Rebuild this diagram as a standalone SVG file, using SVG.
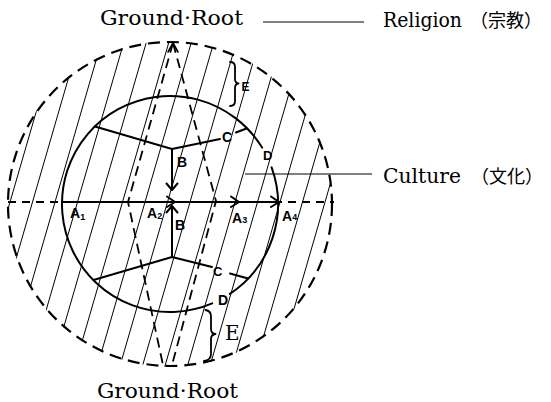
<svg xmlns="http://www.w3.org/2000/svg" width="551" height="402" viewBox="0 0 551 402">
  <style>
    .bg { fill: #ffffff; }
    .hatch { stroke: #000; stroke-width: 1; fill: none; }
    .ring { stroke: #000; stroke-width: 2.2; fill: none; stroke-dasharray: 12 7; }
    .axis { stroke: #000; stroke-width: 1.8; fill: none; stroke-dasharray: 10 6; }
    .hdash { stroke: #000; stroke-width: 2; fill: none; stroke-dasharray: 8 6; }
    .solid { stroke: #000; stroke-width: 2; fill: none; stroke-linecap: round; stroke-linejoin: round; }
    .thin { stroke: #000; stroke-width: 1; fill: none; }
    .brace { stroke: #000; stroke-width: 1.8; fill: none; stroke-linecap: round; stroke-linejoin: round; }
    .serif { font-family: "DejaVu Serif", "Liberation Serif", serif; font-size: 21px; fill: #000; }
    .cjk { font-family: "Noto Sans CJK JP", "Noto Sans CJK SC", sans-serif; font-size: 18px; fill: #000; }
    .lbl { font-family: "Liberation Sans", Arial, sans-serif; font-size: 14px; font-weight: bold; fill: #000; }
    .sub { font-family: "Liberation Sans", Arial, sans-serif; font-size: 9px; font-weight: bold; fill: #000; }
  </style>
  <defs>
    <clipPath id="ringClip">
      <circle cx="170" cy="204" r="163"/>
    </clipPath>
  </defs>

  <rect class="bg" x="0" y="0" width="551" height="402"/>

  <!-- hatching -->
  <g id="hatching" clip-path="url(#ringClip)">
    <line class="hatch" x1="37.4" y1="30" x2="-64.1" y2="380"/>
    <line class="hatch" x1="59.9" y1="30" x2="-41.6" y2="380"/>
    <line class="hatch" x1="82.4" y1="30" x2="-19.1" y2="380"/>
    <line class="hatch" x1="104.9" y1="30" x2="3.4" y2="380"/>
    <line class="hatch" x1="127.4" y1="30" x2="25.9" y2="380"/>
    <line class="hatch" x1="149.9" y1="30" x2="48.4" y2="380"/>
    <line class="hatch" x1="172.4" y1="30" x2="70.9" y2="380"/>
    <line class="hatch" x1="194.9" y1="30" x2="93.4" y2="380"/>
    <line class="hatch" x1="217.4" y1="30" x2="115.9" y2="380"/>
    <line class="hatch" x1="239.9" y1="30" x2="138.4" y2="380"/>
    <line class="hatch" x1="262.4" y1="30" x2="160.9" y2="380"/>
    <line class="hatch" x1="284.9" y1="30" x2="183.4" y2="380"/>
    <line class="hatch" x1="307.4" y1="30" x2="205.9" y2="380"/>
    <line class="hatch" x1="329.9" y1="30" x2="228.4" y2="380"/>
    <line class="hatch" x1="352.4" y1="30" x2="250.9" y2="380"/>
    <line class="hatch" x1="374.9" y1="30" x2="273.4" y2="380"/>
    <line class="hatch" x1="397.4" y1="30" x2="295.9" y2="380"/>
  </g>

  <!-- outer dashed ring (Ground-Root / Religion) -->
  <g id="outer-ring">
    <circle class="ring" cx="170" cy="204" r="162"/>
  </g>

  <!-- Ground-Root dashed axis shape -->
  <g id="ground-root-axis">
    <path class="axis" d="M173,43 L128,202 L163,365"/>
    <path class="axis" d="M173,43 L216,201 L172,365"/>
    <path class="solid" d="M168,52 L173,43 L178,52" style="stroke-width:1.6"/>
  </g>

  <!-- inner culture circle (broken at the D labels) -->
  <g id="culture-circle">
    <path class="solid" d="M271.6,167.4 A108,108 0 0 1 229.9,293.9 M212.2,303.4 A108,108 0 1 1 262.1,147.6"/>
  </g>

  <!-- connectors -->
  <g id="connectors">
    <line class="hdash" x1="8" y1="202" x2="334" y2="202"/>
    <line class="solid" x1="62" y1="202" x2="278" y2="202"/>
    <path class="solid" d="M167,196.5 L175,202 L167,207"/>
    <path class="solid" d="M231,196.5 L239,202 L231,207"/>
    <path class="solid" d="M271,196.5 L279,202 L271,207"/>

    <path class="solid" d="M95,126.5 L172,149 L220,139"/>
    <line class="solid" x1="236" y1="132.5" x2="246.5" y2="128.5"/>
    <line class="solid" x1="172" y1="149" x2="172" y2="190"/>
    <path class="solid" d="M166.5,183.5 L172,190 L177.5,183.5"/>

    <path class="solid" d="M93.5,280 L172,257 L212,267"/>
    <line class="solid" x1="230" y1="273.5" x2="248" y2="278.5"/>
    <line class="solid" x1="172" y1="257" x2="172" y2="206"/>
    <path class="solid" d="M166.5,212.5 L172,206 L177.5,212.5"/>

    <line class="thin" x1="263" y1="22" x2="364" y2="22"/>
    <line class="thin" x1="245" y1="174" x2="372" y2="174"/>

    <path class="brace" d="M230,62 Q235,62 235,67 L235,79 Q235,83 238.5,83.5 Q235,84 235,88 L235,101 Q235,106 230,106"/>
    <path class="brace" d="M205.5,310 Q211,311 211,316 L211,329 Q211,333.5 215.5,334 Q211,334.5 211,339 L211,354 Q211,360 204,361"/>
  </g>

  <!-- labels -->
  <g id="labels">
    <text class="serif" x="100" y="25" textLength="143" lengthAdjust="spacingAndGlyphs">Ground·Root</text>
    <text class="serif" x="97" y="398" textLength="141" lengthAdjust="spacingAndGlyphs">Ground·Root</text>

    <text class="serif" x="383" y="27"><tspan textLength="79" lengthAdjust="spacingAndGlyphs">Religion</tspan><tspan class="cjk" x="470">（宗教）</tspan></text>
    <text class="serif" x="383" y="183"><tspan textLength="78" lengthAdjust="spacingAndGlyphs">Culture</tspan><tspan class="cjk" x="471">（文化）</tspan></text>

    <text class="lbl" x="70" y="218">A<tspan class="sub" dy="2">1</tspan></text>
    <text class="lbl" x="147" y="218">A<tspan class="sub" dy="1">2</tspan></text>
    <text class="lbl" x="232" y="223">A<tspan class="sub" dy="0">3</tspan></text>
    <text class="lbl" x="282" y="221">A<tspan class="sub" dy="-1">4</tspan></text>

    <text class="lbl" x="177" y="167">B</text>
    <text class="lbl" x="175" y="230">B</text>
    <text class="lbl" x="222" y="142">C</text>
    <text class="lbl" x="213" y="276" style="font-size:13px">C</text>
    <text class="lbl" x="263" y="160" style="font-size:13px">D</text>
    <text class="lbl" x="218" y="305">D</text>
    <text class="lbl" x="241.5" y="91" style="font-size:12px">E</text>
    <text class="serif" x="225" y="340" style="font-size:20px">E</text>
  </g>
</svg>
